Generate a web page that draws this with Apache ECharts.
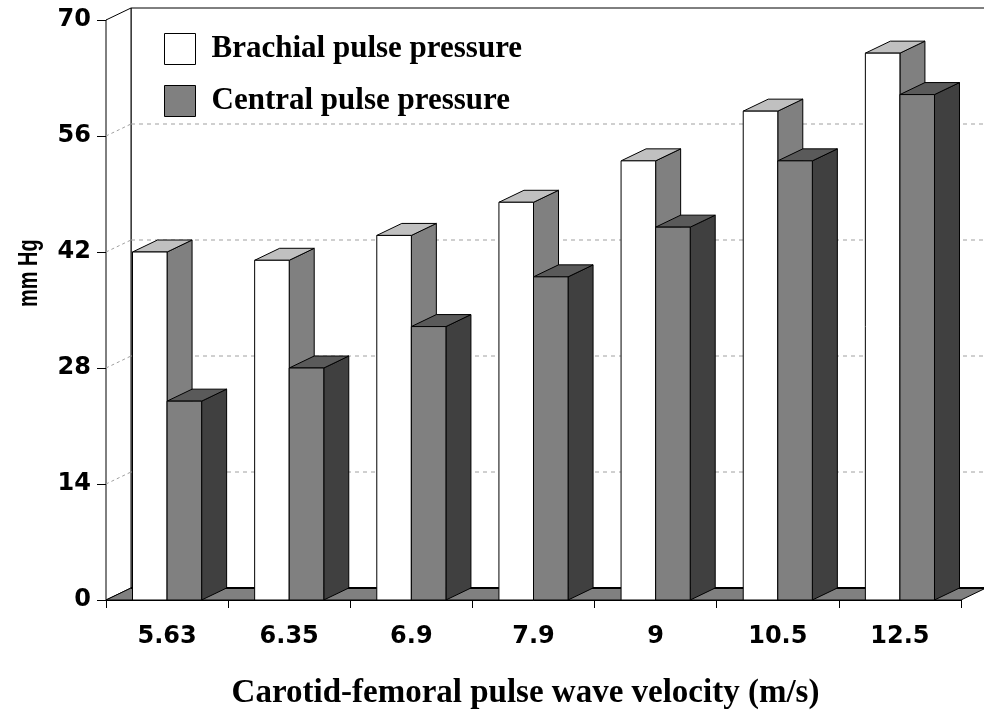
<!DOCTYPE html>
<html>
<head>
<meta charset="utf-8">
<script src="https://cdn.jsdelivr.net/npm/echarts@6/dist/echarts.min.js"></script>
<style>
html,body{margin:0;padding:0;background:#fff;}
#chart{width:984px;height:719px;}
</style>
</head>
<body>
<div id="chart"></div>
<script>
// ---- data ----
var categories = ['5.63', '6.35', '6.9', '7.9', '9', '10.5', '12.5'];
var brachial = [42, 41, 44, 48, 53, 59, 66];
var central = [24, 28, 33, 39, 45, 53, 61];
var yTicks = [0, 14, 28, 42, 56, 70];
var seriesNames = ['Brachial pulse pressure', 'Central pulse pressure'];

// ---- style constants ----
var DX = 25, DY = -12;
var BAR_FRAC = 0.283;

function makeBarRender(front, topC, side, pos) {
  return function (params, api) {
    var idx = api.value(0), v = api.value(1);
    var p = api.coord([idx, v]);
    var b = api.coord([idx, 0]);
    var cw = api.size([1, 0])[0];
    var bw = cw * BAR_FRAC;
    var L = pos === 0 ? p[0] - bw : p[0];
    var R = L + bw, T = p[1], B = b[1];
    var st = function (f) { return { fill: f, stroke: '#000', lineWidth: 1 }; };
    return {
      type: 'group',
      children: [
        { type: 'polygon', shape: { points: [[R, T], [R + DX, T + DY], [R + DX, B + DY], [R, B]] }, style: st(side) },
        { type: 'polygon', shape: { points: [[L, T], [R, T], [R + DX, T + DY], [L + DX, T + DY]] }, style: st(topC) },
        { type: 'rect', shape: { x: L, y: T, width: bw, height: B - T }, style: st(front) }
      ]
    };
  };
}

function frameRender(params, api) {
  var cs = params.coordSys;
  var x0 = cs.x, x1 = cs.x + cs.width;
  var y0 = api.coord([0, 0])[1];
  var yT = api.coord([0, yTicks[yTicks.length - 1]])[1];
  var ch = [];
  // back wall
  ch.push({ type: 'rect', shape: { x: x0 + DX, y: yT + DY, width: x1 - x0 + 10, height: y0 - yT }, style: { fill: '#fff', stroke: '#000', lineWidth: 1 } });
  // left wall
  ch.push({ type: 'polygon', shape: { points: [[x0, yT], [x0 + DX, yT + DY], [x0 + DX, y0 + DY], [x0, y0]] }, style: { fill: '#fff', stroke: '#000', lineWidth: 1 } });
  // gridlines
  for (var i = 1; i < yTicks.length - 1; i++) {
    var y = api.coord([0, yTicks[i]])[1];
    ch.push({ type: 'line', shape: { x1: x0 + DX, y1: y + DY, x2: x1 + DX + 10, y2: y + DY }, style: { stroke: '#a0a0a0', lineWidth: 1, lineDash: [4, 4] } });
    ch.push({ type: 'line', shape: { x1: x0, y1: y, x2: x0 + DX, y2: y + DY }, style: { stroke: '#a0a0a0', lineWidth: 1, lineDash: [3, 3] } });
  }
  // floor
  ch.push({ type: 'polygon', shape: { points: [[x0, y0], [x0 + DX, y0 + DY], [x1 + DX, y0 + DY], [x1, y0]] }, style: { fill: '#808080', stroke: '#000', lineWidth: 1 } });
  ch.push({ type: 'line', shape: { x1: x0 + DX, y1: y0 + DY, x2: x1 + DX, y2: y0 + DY }, style: { stroke: '#000', lineWidth: 2 } });
  return { type: 'group', children: ch };
}

var chart = echarts.init(document.getElementById('chart'), null, { renderer: 'canvas' });
var sansBold = { fontFamily: 'DejaVu Sans', fontWeight: 'bold', fontSize: 24, color: '#000' };

var option = {
  animation: false,
  backgroundColor: '#fff',
  grid: { left: 106, right: 23, top: 20, bottom: 119 },
  legend: {
    orient: 'vertical',
    left: 164, top: 33,
    padding: 0,
    itemWidth: 31, itemHeight: 31, itemGap: 20,
    selectedMode: false,
    textStyle: { fontFamily: 'Liberation Serif', fontWeight: 'bold', fontSize: 31, lineHeight: 31, color: '#000', padding: [0, 0, 0, 11] },
    data: [
      { name: seriesNames[0], icon: 'rect', itemStyle: { color: '#ffffff', borderColor: '#000', borderWidth: 1 } },
      { name: seriesNames[1], icon: 'rect', itemStyle: { color: '#808080', borderColor: '#000', borderWidth: 1 } }
    ]
  },
  xAxis: {
    type: 'category',
    data: categories,
    boundaryGap: true,
    axisLine: { show: true, lineStyle: { color: '#000', width: 1 } },
    axisTick: { show: true, length: 8, lineStyle: { color: '#000' } },
    axisLabel: Object.assign({ margin: 25 }, sansBold),
    splitLine: { show: false },
    name: 'Carotid-femoral pulse wave velocity (m/s)',
    nameLocation: 'middle',
    nameGap: 77,
    nameTextStyle: { fontFamily: 'Liberation Serif', fontWeight: 'bold', fontSize: 33, color: '#000', padding: [0, 16, 0, 0] }
  },
  yAxis: {
    type: 'value',
    min: 0, max: 70, interval: 14,
    axisLine: { show: true, lineStyle: { color: '#000', width: 1 } },
    axisTick: { show: true, length: 9, lineStyle: { color: '#000' } },
    axisLabel: Object.assign({ margin: 15 }, sansBold),
    splitLine: { show: false }
  },
  graphic: [
    { type: 'text', x: 16, y: 307, rotation: Math.PI / 2, scaleY: 1.35,
      style: { text: 'mm Hg', font: 'bold 20px "Liberation Sans"', fill: '#000', textVerticalAlign: 'top', textAlign: 'left' } }
  ],
  series: [
    { type: 'custom', name: 'frame', silent: true, z: 1, renderItem: frameRender, data: [[0, 0]], encode: { x: 0, y: 1 }, tooltip: { show: false } },
    { type: 'custom', name: seriesNames[0], z: 2, renderItem: makeBarRender('#ffffff', '#c0c0c0', '#808080', 0),
      itemStyle: { color: '#ffffff', borderColor: '#000' },
      data: brachial.map(function (v, i) { return [i, v]; }), encode: { x: 0, y: 1 } },
    { type: 'custom', name: seriesNames[1], z: 3, renderItem: makeBarRender('#808080', '#5a5a5a', '#404040', 1),
      itemStyle: { color: '#808080', borderColor: '#000' },
      data: central.map(function (v, i) { return [i, v]; }), encode: { x: 0, y: 1 } }
  ]
};
chart.setOption(option);
</script>
</body>
</html>
